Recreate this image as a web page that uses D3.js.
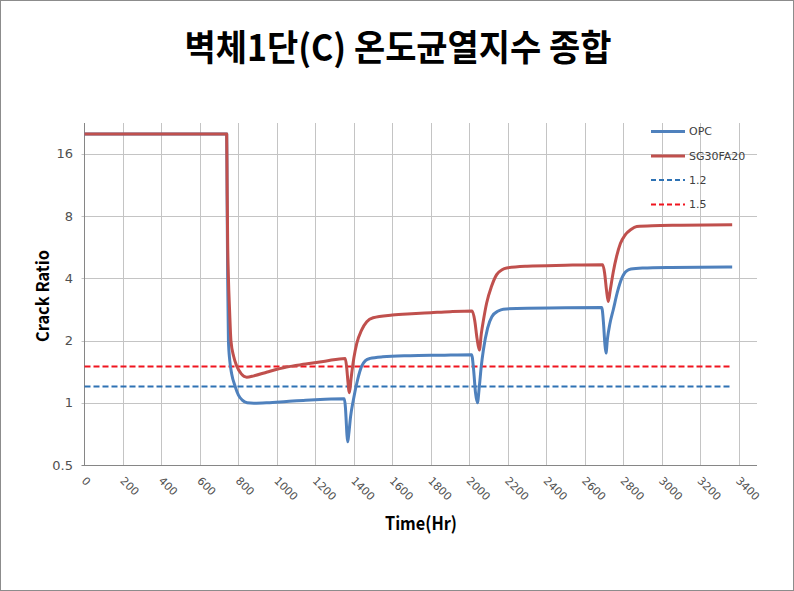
<!DOCTYPE html>
<html><head><meta charset="utf-8">
<script src="https://cdn.jsdelivr.net/npm/d3@7"></script>
<style>html,body{margin:0;padding:0;background:#fff;}</style>
</head><body>
<svg id="chart" width="794" height="591"></svg>
<script>
const titleText = "벽체1단(C) 온도균열지수 종합";
const xTicks = [0,200,400,600,800,1000,1200,1400,1600,1800,2000,2200,2400,2600,2800,3000,3200,3400];
const yTicks = [0.5,1,2,4,8,16];
const yTickLabels = ["0.5","1","2","4","8","16"];
const seriesNames = ["OPC","SG30FA20","1.2","1.5"];

const timeOPC = [0,739,741,744,748,755,765,783,800,820,845,880,950,1050,1150,1250,1350,1356,1360,1364,1368,1373,1383,1397,1420,1440,1460,1484,1550,1692,1850,2012,2022,2032,2042,2052,2062,2073,2095,2117,2150,2176,2300,2500,2688,2697,2704,2710,2718,2730,2748,2770,2792,2805,2820,2840,2900,3050,3366];
const valOPC  = [20,20,10,4,2.0,1.6,1.38,1.2,1.09,1.03,1.0,0.995,1.0,1.015,1.03,1.04,1.045,0.95,0.82,0.7,0.647,0.7,0.86,1.03,1.3,1.5,1.6,1.64,1.67,1.69,1.70,1.71,1.45,1.12,1.0,1.2,1.5,1.80,2.3,2.61,2.78,2.84,2.87,2.88,2.89,2.45,1.95,1.74,2.05,2.4,2.82,3.45,4.0,4.22,4.36,4.44,4.49,4.52,4.54];

const timeSG = [0,739,741,744,748,754,761,775,792,815,843,880,950,1050,1150,1250,1355,1362,1368,1373,1377,1385,1400,1415,1440,1467,1500,1600,1700,1800,1900,2015,2028,2040,2052,2062,2073,2090,2115,2142,2170,2194,2300,2500,2693,2703,2713,2722,2732,2748,2765,2785,2809,2840,2870,2950,3100,3366];
const valSG  = [20,20,12,6,4,2.8,2.0,1.68,1.5,1.38,1.33,1.35,1.41,1.49,1.54,1.59,1.64,1.5,1.3,1.16,1.12,1.3,1.65,1.94,2.25,2.47,2.58,2.66,2.70,2.73,2.76,2.78,2.5,2.05,1.80,2.15,2.5,3.04,3.65,4.17,4.4,4.49,4.58,4.63,4.66,4.25,3.5,3.09,3.5,4.3,5.1,5.9,6.48,6.9,7.13,7.2,7.23,7.27];

const ref12Time = [0,3366];
const ref12Val = [1.2,1.2];
const ref15Time = [0,3366];
const ref15Val = [1.5,1.5];

const colors = {opc:"#4F81BD", sg:"#C0504D", r12:"#2E72B4", r15:"#F0141E"};

const svg = d3.select("#chart");
svg.append("rect").attr("x",0.5).attr("y",0.5).attr("width",793).attr("height",590)
  .attr("fill","#fff").attr("stroke","#8c8c8c").attr("stroke-width",1);

const x = d3.scaleLinear().domain([0,3495]).range([84.5,757]);
const y = d3.scaleLog().domain([0.5,22.6]).range([465,123]);

// gridlines
const grid = svg.append("g");
grid.selectAll("line.v").data(xTicks.filter(d=>d>0)).join("line")
  .attr("x1",d=>Math.round(x(d))+0.5).attr("x2",d=>Math.round(x(d))+0.5)
  .attr("y1",y.range()[1]).attr("y2",y.range()[0])
  .attr("stroke","#c4c4c4").attr("stroke-width",1);
grid.selectAll("line.h").data(yTicks.filter(d=>d>0.5)).join("line")
  .attr("x1",x.range()[0]-3).attr("x2",x.range()[1])
  .attr("y1",d=>Math.round(y(d))+0.5).attr("y2",d=>Math.round(y(d))+0.5)
  .attr("stroke","#c4c4c4").attr("stroke-width",1);

// axes lines
svg.append("line").attr("x1",x.range()[0]).attr("x2",x.range()[0]).attr("y1",y.range()[1]).attr("y2",y.range()[0]+0.5)
  .attr("stroke","#868686");
svg.append("line").attr("x1",x.range()[0]-3).attr("x2",x.range()[1]).attr("y1",y.range()[0]+0.5).attr("y2",y.range()[0]+0.5)
  .attr("stroke","#868686");

// y tick labels
svg.append("g").selectAll("text").data(yTicks).join("text")
  .attr("x",73).attr("y",d=>y(d)).attr("text-anchor","end").attr("dominant-baseline","central")
  .attr("font-family","DejaVu Sans").attr("font-size",13).attr("fill","#505050")
  .text((d,i)=>yTickLabels[i]);

// x tick labels rotated
svg.append("g").selectAll("text").data(xTicks).join("text")
  .attr("transform",d=>`translate(${x(d)-1},479) rotate(45)`)
  .attr("text-anchor","start").attr("dominant-baseline","central")
  .attr("font-family","DejaVu Sans").attr("font-size",11).attr("fill","#505050")
  .text(d=>d);

// titles
svg.append("text").attr("x",398).attr("y",45).attr("text-anchor","middle").attr("dominant-baseline","central")
  .attr("font-family","Noto Sans CJK KR").attr("font-weight","bold").attr("font-size",36)
  .attr("textLength",427).attr("lengthAdjust","spacingAndGlyphs").attr("fill","#000").text(titleText);
svg.append("text").attr("transform","translate(41,296) rotate(-90)").attr("text-anchor","middle").attr("dominant-baseline","central")
  .attr("font-family","Noto Sans CJK KR").attr("font-weight","bold").attr("font-size",17)
  .attr("textLength",92).attr("lengthAdjust","spacingAndGlyphs").text("Crack Ratio");
svg.append("text").attr("x",421).attr("y",522).attr("text-anchor","middle").attr("dominant-baseline","central")
  .attr("font-family","Noto Sans CJK KR").attr("font-weight","bold").attr("font-size",18)
  .attr("textLength",72).attr("lengthAdjust","spacingAndGlyphs").text("Time(Hr)");

// series
const line = d3.line().x(d=>x(d[0])).y(d=>y(d[1])).curve(d3.curveMonotoneX);
const zip = (a,b)=>a.map((t,i)=>[t,b[i]]);
const plot = svg.append("g");
plot.append("path").datum(zip(ref12Time,ref12Val)).attr("d",d3.line().x(d=>x(d[0])).y(d=>y(d[1])))
  .attr("fill","none").attr("stroke",colors.r12).attr("stroke-width",2).attr("stroke-dasharray","6,3");
plot.append("path").datum(zip(ref15Time,ref15Val)).attr("d",d3.line().x(d=>x(d[0])).y(d=>y(d[1])))
  .attr("fill","none").attr("stroke",colors.r15).attr("stroke-width",2).attr("stroke-dasharray","6,3");
plot.append("path").datum(zip(timeOPC,valOPC)).attr("d",line)
  .attr("fill","none").attr("stroke",colors.opc).attr("stroke-width",3).attr("stroke-linejoin","round");
plot.append("path").datum(zip(timeSG,valSG)).attr("d",line)
  .attr("fill","none").attr("stroke",colors.sg).attr("stroke-width",3).attr("stroke-linejoin","round");

// legend
const legend = svg.append("g");
const legItems = [
  {name:seriesNames[0], color:colors.opc, w:3, dash:null, y:131.5},
  {name:seriesNames[1], color:colors.sg, w:3, dash:null, y:156},
  {name:seriesNames[2], color:colors.r12, w:2, dash:"5,3", y:180},
  {name:seriesNames[3], color:colors.r15, w:2, dash:"5,3", y:204.5}
];
legItems.forEach(it=>{
  legend.append("line").attr("x1",651).attr("x2",685).attr("y1",it.y).attr("y2",it.y)
    .attr("stroke",it.color).attr("stroke-width",it.w).attr("stroke-dasharray",it.dash);
  legend.append("text").attr("x",689).attr("y",it.y).attr("dominant-baseline","central")
    .attr("font-family","DejaVu Sans").attr("font-size",11).attr("fill","#404040").text(it.name);
});
</script>
</body></html>
